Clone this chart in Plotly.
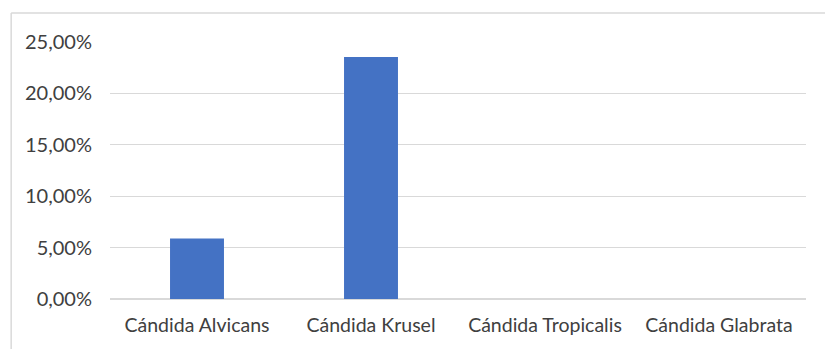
import plotly.graph_objects as go

categories = ["Cándida Alvicans", "Cándida Krusel", "Cándida Tropicalis", "Cándida Glabrata"]
values = [0.0588, 0.2353, 0.0, 0.0]
y_ticks = [0, 0.05, 0.10, 0.15, 0.20, 0.25]

fig = go.Figure(go.Bar(x=categories, y=values, marker_color="#4472C4", marker_line_width=0))

yfont = dict(family="Lato, 'Open Sans', sans-serif", size=20, color="#404040")
xfont = dict(family="Lato, 'Open Sans', sans-serif", size=19.5, color="#404040")
fig.update_layout(
    width=825, height=349,
    margin=dict(l=110, r=19, t=42, b=50),
    paper_bgcolor="white", plot_bgcolor="white",
    separators=",.",
    bargap=0.69,
    font=yfont,
    showlegend=False,
    xaxis=dict(showgrid=False, showline=False, ticks="", tickfont=xfont, ticklabelstandoff=12),
    yaxis=dict(range=[0, 0.25], tickvals=y_ticks, tickformat=".2%", showgrid=True,
               gridcolor="#d9d9d9", gridwidth=1, zeroline=True, zerolinecolor="#d9d9d9",
               showline=False, ticks="", tickfont=yfont, ticklabelstandoff=17),
    shapes=[
        dict(type="line", xref="paper", yref="paper", x0=-0.142, x1=1.1, y0=1.113, y1=1.113,
             line=dict(color="#d9d9d9", width=1.5)),
        dict(type="line", xref="paper", yref="paper", x0=-0.142, x1=-0.142, y0=-0.3, y1=1.113,
             line=dict(color="#d9d9d9", width=1.5)),
    ],
)
fig.write_html("out.html")
